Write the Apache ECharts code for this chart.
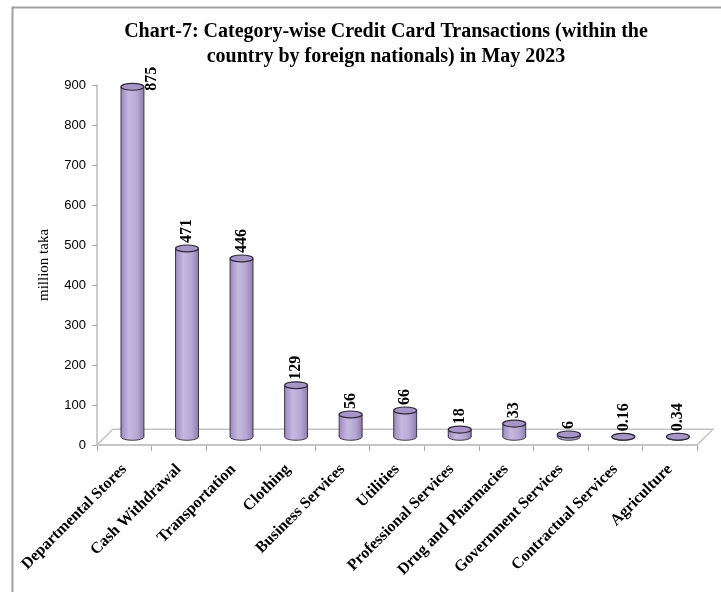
<!DOCTYPE html>
<html>
<head>
<meta charset="utf-8">
<script src="https://cdn.jsdelivr.net/npm/echarts@6/dist/echarts.min.js"></script>
<style>html,body{margin:0;padding:0;background:#fff;}#c{width:721px;height:592px;}</style>
</head>
<body>
<div id="c"></div>
<script>
var categories = ['Departmental Stores', 'Cash Withdrawal', 'Transportation', 'Clothing', 'Business Services', 'Utilities', 'Professional Services', 'Drug and Pharmacies', 'Government Services', 'Contractual Services', 'Agriculture'];
var values = [875, 471, 446, 129, 56, 66, 18, 33, 6, 0.16, 0.34];
var valueLabels = ['875', '471', '446', '129', '56', '66', '18', '33', '6', '0.16', '0.34'];
var yTicks = [0, 100, 200, 300, 400, 500, 600, 700, 800, 900];

var SERIF = '"Liberation Serif", "Times New Roman", serif';
var SANS = '"Liberation Sans", Arial, sans-serif';

var chart = echarts.init(document.getElementById('c'), null, {renderer: 'canvas'});

function renderFloor(params, api) {
  var a = api.coord([0, 0]);
  var bw = api.size([1, 0])[0];
  var x0 = a[0] - bw / 2, x1 = x0 + bw * categories.length, y0 = a[1];
  var d = bw * 0.29;
  return {
    type: 'polygon',
    shape: {points: [[x0, y0], [x0 + d, y0 - d], [x1 + d, y0 - d], [x1, y0]]},
    style: {fill: 'none', stroke: '#c4c4c4', lineWidth: 1.5},
    silent: true
  };
}

function renderBar(params, api) {
  var i = api.value(0), v = api.value(1);
  var b = api.coord([i, 0]), t = api.coord([i, v]);
  var bw = api.size([1, 0])[0];
  var top = api.coord([0, yTicks[yTicks.length - 1]])[1];
  var w = bw * 0.42, dx = bw * 0.15, dy = -bw * 0.15;
  var cx = b[0] + dx, yb = b[1] + dy, yt = t[1] + dy;
  var rx = w / 2, ry = w * 0.15;
  var grad = new echarts.graphic.LinearGradient(0, 0, 1, 0, [
    {offset: 0, color: '#9a8abb'},
    {offset: 0.35, color: '#c6b9e0'},
    {offset: 0.7, color: '#b6a7d4'},
    {offset: 1, color: '#8e7db0'}
  ]);
  var children = [
    {type: 'ellipse', shape: {cx: cx, cy: yb, rx: rx, ry: ry}, style: {fill: grad, stroke: '#3c3446', lineWidth: 1}},
    {type: 'rect', shape: {x: cx - rx, y: yt, width: w, height: Math.max(0, yb - yt)}, style: {fill: grad}},
    {type: 'line', shape: {x1: cx - rx, y1: yt, x2: cx - rx, y2: yb}, style: {stroke: '#3c3446', lineWidth: 1}},
    {type: 'line', shape: {x1: cx + rx, y1: yt, x2: cx + rx, y2: yb}, style: {stroke: '#3c3446', lineWidth: 1}},
    {type: 'ellipse', shape: {cx: cx, cy: yt, rx: rx, ry: ry}, style: {fill: '#a596c6', stroke: '#2e2838', lineWidth: 1.2}}
  ];
  var txt = valueLabels[params.dataIndex];
  var lx, ly;
  if (yt - 34 < top) { lx = cx + rx + 8; ly = yt + 4; }
  else { lx = cx; ly = yt - ry - 2; }
  children.push({
    type: 'text', x: lx, y: ly, rotation: Math.PI / 2,
    style: {text: txt, font: 'bold 16px ' + SERIF, fill: '#000', align: 'left', verticalAlign: 'middle'}
  });
  return {type: 'group', children: children};
}

var option = {
  backgroundColor: '#fff',
  animation: false,
  title: {
    text: 'Chart-7: Category-wise Credit Card Transactions (within the\ncountry by foreign nationals) in May 2023',
    left: 381, top: 14, textAlign: 'center',
    textStyle: {fontFamily: SERIF, fontWeight: 'bold', fontSize: 20, lineHeight: 25, color: '#000'}
  },
  graphic: [{
    type: 'rect', left: 10, top: 5, silent: true,
    shape: {x: 0, y: 0, width: 800, height: 700},
    style: {fill: 'none', stroke: '#a0a0a0', lineWidth: 2}
  }],
  grid: {left: 97, right: 24, top: 85, bottom: 147},
  xAxis: {
    type: 'category', data: categories,
    axisLine: {show: true, lineStyle: {color: '#bdbdbd', width: 1.5}},
    axisTick: {show: true, length: 6, lineStyle: {color: '#a8a8a8'}},
    axisLabel: {rotate: 45, margin: 22, interval: 0, fontFamily: SERIF, fontWeight: 'bold', fontSize: 16, color: '#000'}
  },
  yAxis: {
    type: 'value', min: 0, max: 900, interval: 100,
    name: 'million taka', nameLocation: 'middle', nameGap: 45,
    nameTextStyle: {fontFamily: SERIF, fontSize: 15, color: '#000'},
    axisLine: {show: true, lineStyle: {color: '#bdbdbd', width: 1.5}},
    axisTick: {show: true, length: 5, lineStyle: {color: '#a8a8a8'}},
    axisLabel: {margin: 11, fontFamily: SANS, fontSize: 13, color: '#000'},
    splitLine: {show: false}
  },
  series: [
    {type: 'custom', data: [[0]], renderItem: renderFloor, z: 1, silent: true},
    {type: 'custom', data: values.map(function (v, i) { return [i, v]; }), renderItem: renderBar, z: 2, encode: {x: 0, y: 1}}
  ]
};
chart.setOption(option);
</script>
</body>
</html>
